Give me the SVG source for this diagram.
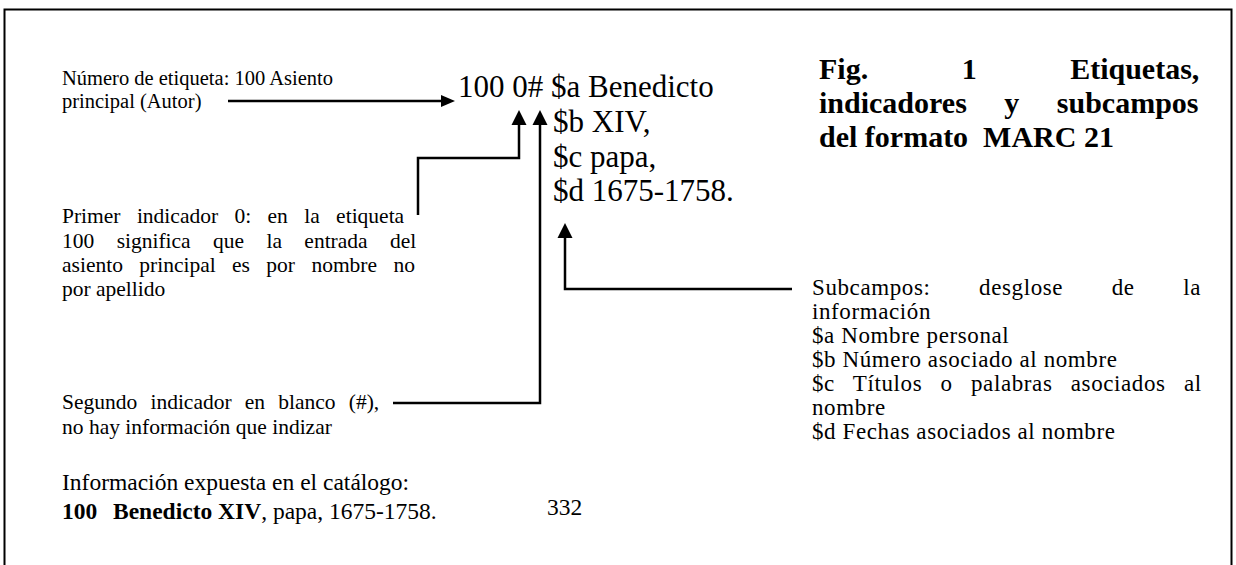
<svg xmlns="http://www.w3.org/2000/svg" width="1236" height="565" viewBox="0 0 1236 565">
<style>
text{font-family:"Liberation Serif","Times New Roman",serif;fill:#000}
.s{font-size:21.5px}
.t{font-size:20.5px}
.r{font-size:23px;letter-spacing:0.6px}
.m{font-size:31px}
.b{font-size:30px;font-weight:bold}
.i{font-size:23.5px}
.c{fill:none;stroke:#000;stroke-width:2.5}
.h{fill:#000}
</style>
<rect x="4.5" y="9.5" width="1227" height="600" fill="#fff" stroke="#000" stroke-width="2"/>
<g id="connectors">
<path class="c" d="M228,101 H443"/>
<polygon class="h" points="455,101 441,95 441,107"/>
<path class="c" d="M418,215 V158 H519 V124"/>
<polygon class="h" points="519,110 511.5,125 526.5,125"/>
<path class="c" d="M393,403 H540 V124"/>
<polygon class="h" points="540,110 532.5,125 547.5,125"/>
<path class="c" d="M792,289 H565 V237"/>
<polygon class="h" points="565,223 557.5,238 572.5,238"/>
</g>
<g id="tag-label">
<text class="t" x="62" y="85">Número de etiqueta: 100 Asiento</text>
<text class="t" x="62" y="108">principal (Autor)</text>
</g>
<g id="marc-field">
<text class="m" x="458" y="97">100 0# $a Benedicto</text>
<text class="m" x="553" y="132">$b XIV,</text>
<text class="m" x="553" y="167">$c papa,</text>
<text class="m" x="553" y="201">$d 1675-1758.</text>
</g>
<g id="title">
<text class="b" x="819" y="79" style="word-spacing:86px">Fig. 1 Etiquetas,</text>
<text class="b" x="819" y="113" style="word-spacing:30px">indicadores y subcampos</text>
<text class="b" x="819" y="147">del formato&#160; MARC 21</text>
</g>
<g id="first-indicator">
<text class="s" x="62" y="223" style="word-spacing:11px">Primer indicador 0: en la etiqueta</text>
<text class="s" x="62" y="248" style="word-spacing:17px">100 significa que la entrada del</text>
<text class="s" x="62" y="272" style="word-spacing:11px">asiento principal es por nombre no</text>
<text class="s" x="62" y="296">por apellido</text>
</g>
<g id="second-indicator">
<text class="s" x="62" y="409" style="word-spacing:7.8px">Segundo indicador en blanco (#),</text>
<text class="s" x="62" y="434">no hay información que indizar</text>
</g>
<g id="subfields">
<text class="r" x="812" y="295" style="word-spacing:42.3px">Subcampos: desglose de la</text>
<text class="r" x="812" y="319">información</text>
<text class="r" x="812" y="343">$a Nombre personal</text>
<text class="r" x="812" y="367">$b Número asociado al nombre</text>
<text class="r" x="812" y="391" style="word-spacing:12px">$c Títulos o palabras asociados al</text>
<text class="r" x="812" y="415">nombre</text>
<text class="r" x="812" y="439">$d Fechas asociados al nombre</text>
</g>
<g id="catalog-display">
<text class="i" x="62" y="490">Información expuesta en el catálogo:</text>
<text class="i" y="519"><tspan x="62" font-weight="bold">100</tspan><tspan x="113" font-weight="bold">Benedicto XIV</tspan>, papa, 1675-1758.</text>
<text class="i" x="547" y="515">332</text>
</g>
</svg>
